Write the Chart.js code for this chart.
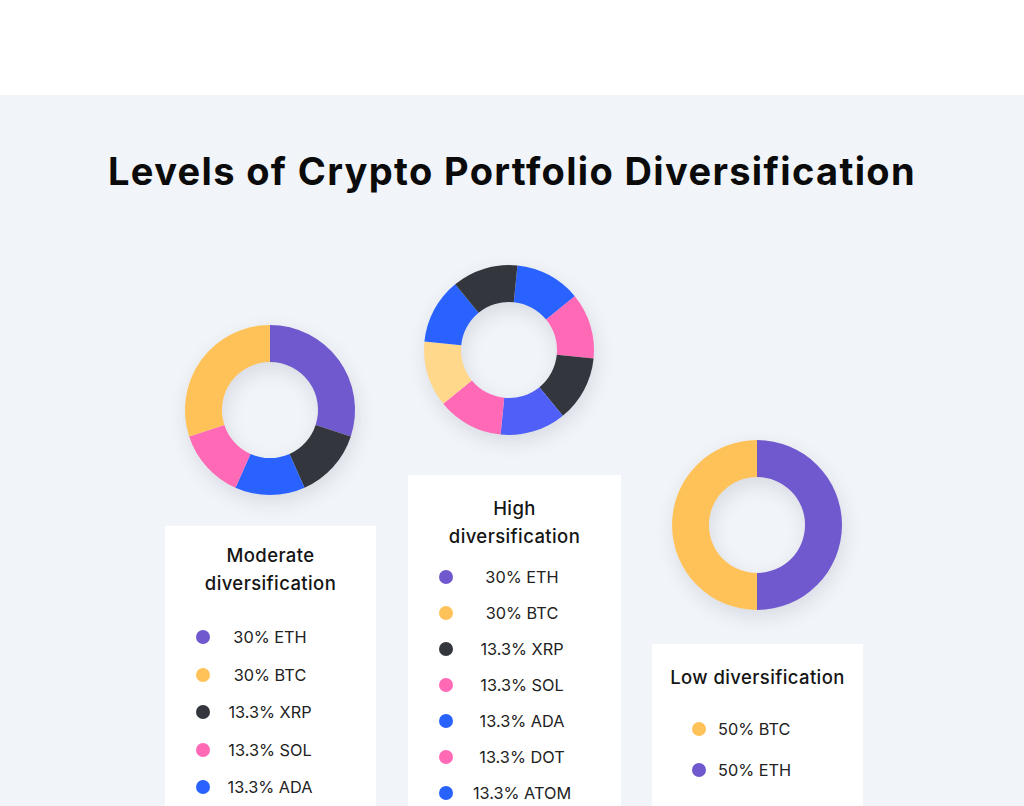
<!DOCTYPE html>
<html>
<head>
<meta charset="utf-8">
<script src="https://cdn.jsdelivr.net/npm/chart.js"></script>
<style>
  html, body { margin: 0; padding: 0; }
  body {
    width: 1024px; height: 806px; overflow: hidden; position: relative;
    background: #f1f4f8; font-family: Inter, "Noto Sans", sans-serif; color: #1c1c1c;
  }
  .top-band { position: absolute; left: 0; top: 0; width: 1024px; height: 95px; background: #fff; }
  h1 {
    position: absolute; left: 0; width: 1024px; top: 146px; margin: 0;
    text-align: center; font-size: 38px; font-weight: 700; color: #0b0b0b;
    line-height: 50px; letter-spacing: 1.35px;
  }
  .donut { position: absolute; width: 240px; height: 240px; z-index: 2; }
  .card { position: absolute; background: #fff; height: 400px; z-index: 1; }
  .card-title {
    position: absolute; left: 0; right: 0; text-align: center;
    font-size: 18.5px; font-weight: 500; line-height: 28px; color: #151515; letter-spacing: 0.4px;
  }
  .row { position: absolute; left: 0; right: 0; height: 24px; line-height: 24px; font-size: 16.3px; color: #222; }
  .dot { position: absolute; top: 5px; width: 14px; height: 14px; border-radius: 50%; }
  .row span { position: absolute; white-space: nowrap; }
</style>
</head>
<body>
<div class="top-band"></div>
<h1>Levels of Crypto Portfolio Diversification</h1>

<canvas id="moderate-chart" class="donut" width="240" height="240" style="left:150px;top:290px"></canvas>
<canvas id="high-chart" class="donut" width="240" height="240" style="left:389px;top:230px"></canvas>
<canvas id="low-chart" class="donut" width="240" height="240" style="left:637px;top:405px"></canvas>

<div id="moderate-card" class="card" style="left:165px;top:526px;width:211px"></div>
<div id="high-card" class="card" style="left:408px;top:475px;width:213px"></div>
<div id="low-card" class="card" style="left:652px;top:644px;width:211px"></div>

<script>
// colours used by slices and legend dots
const PURPLE = '#7059ce';
const YELLOW = '#ffc259';
const DARK = '#33363d';
const PINK = '#ff69b6';
const BLUE = '#2962ff';
const INDIGO = '#4f5ff8';
const PALE_YELLOW = '#ffd88c';

// Moderate diversification: slices clockwise from 12 o'clock
const moderateSlices = ['ETH', 'XRP', 'ADA', 'SOL', 'BTC'];
const moderateValues = [30, 13.3, 13.3, 13.3, 30];
const moderateColors = [PURPLE, DARK, BLUE, PINK, YELLOW];

// High diversification: eight equal slices
const highSlices = ['ADA', 'SOL', 'XRP', 'ATOM', 'DOT', 'BTC', 'ADA', 'XRP'];
const highValues = [12.5, 12.5, 12.5, 12.5, 12.5, 12.5, 12.5, 12.5];
const highColors = [BLUE, PINK, DARK, INDIGO, PINK, PALE_YELLOW, BLUE, DARK];

// Low diversification
const lowSlices = ['ETH', 'BTC'];
const lowValues = [50, 50];
const lowColors = [PURPLE, YELLOW];

// legend cards
const moderateTitle = ['Moderate', 'diversification'];
const moderateLegend = ['30% ETH', '30% BTC', '13.3% XRP', '13.3% SOL', '13.3% ADA'];
const moderateDots = [PURPLE, YELLOW, DARK, PINK, BLUE];

const highTitle = ['High', 'diversification'];
const highLegend = ['30% ETH', '30% BTC', '13.3% XRP', '13.3% SOL', '13.3% ADA', '13.3% DOT', '13.3% ATOM'];
const highDots = [PURPLE, YELLOW, DARK, PINK, BLUE, PINK, BLUE];

const lowTitle = ['Low diversification'];
const lowLegend = ['50% BTC', '50% ETH'];
const lowDots = [YELLOW, PURPLE];

// soft drop shadow under the whole ring
const ringShadow = {
    id: 'ringShadow',
    beforeDatasetsDraw(chart) {
        const arc = chart.getDatasetMeta(0).data[0];
        if (!arc) return;
        const { x, y, outerRadius, innerRadius } = arc.getProps(['x', 'y', 'outerRadius', 'innerRadius'], true);
        const ctx = chart.ctx;
        ctx.save();
        ctx.shadowColor = 'rgba(40, 50, 80, 0.13)';
        ctx.shadowBlur = 20;
        ctx.shadowOffsetY = 7;
        ctx.shadowOffsetX = 2;
        ctx.beginPath();
        ctx.arc(x, y, outerRadius - 1, 0, Math.PI * 2);
        ctx.arc(x, y, innerRadius + 1, 0, Math.PI * 2, true);
        ctx.fillStyle = '#e9edf2';
        ctx.fill();
        ctx.restore();
    }
};

function createDonut(id, labels, values, colors, rotation) {
    const ctx = document.getElementById(id).getContext('2d');
    return new Chart(ctx, {
        type: 'doughnut',
        data: {
            labels: labels,
            datasets: [{
                data: values,
                backgroundColor: colors,
                borderWidth: 0,
                hoverOffset: 0
            }]
        },
        options: {
            responsive: false,
            animation: false,
            cutout: '56.5%',
            rotation: rotation,
            layout: { padding: 35 },
            plugins: {
                legend: { display: false },
                tooltip: { enabled: false }
            },
            events: []
        },
        plugins: [ringShadow]
    });
}

function fillCard(id, titleLines, titleTop, items, dots, rowTop, rowStep, dotX, textX, centered) {
    const card = document.getElementById(id);
    titleLines.forEach((line, i) => {
        const t = document.createElement('div');
        t.className = 'card-title';
        t.textContent = line;
        t.style.top = (titleTop + i * 28 - 14) + 'px';
        card.appendChild(t);
    });
    items.forEach((text, i) => {
        const row = document.createElement('div');
        row.className = 'row';
        row.style.top = (rowTop + i * rowStep - 12) + 'px';
        const dot = document.createElement('div');
        dot.className = 'dot';
        dot.style.background = dots[i];
        dot.style.left = (dotX - 7) + 'px';
        const span = document.createElement('span');
        span.textContent = text;
        span.style.left = textX + 'px';
        if (centered) span.style.transform = 'translateX(-50%)';
        row.appendChild(dot);
        row.appendChild(span);
        card.appendChild(row);
    });
}

createDonut('moderate-chart', moderateSlices, moderateValues, moderateColors, 0);
createDonut('high-chart', highSlices, highValues, highColors, 5.7);
createDonut('low-chart', lowSlices, lowValues, lowColors, 0);

fillCard('moderate-card', moderateTitle, 29, moderateLegend, moderateDots, 111, 37.5, 38, 105, true);
fillCard('high-card', highTitle, 33, highLegend, highDots, 101.7, 36.1, 38, 114, true);
fillCard('low-card', lowTitle, 33, lowLegend, lowDots, 85.3, 40.7, 47, 66, false);
</script>
</body>
</html>
